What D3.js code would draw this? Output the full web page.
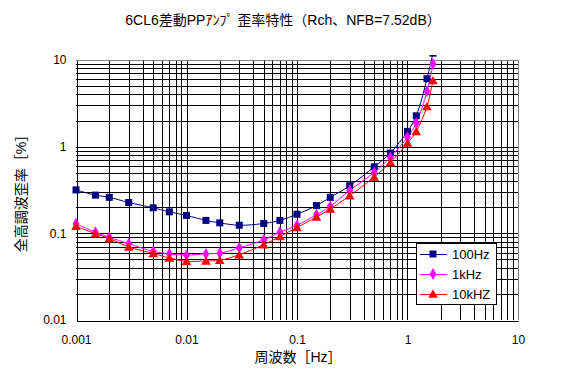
<!DOCTYPE html>
<html>
<head>
<meta charset="utf-8">
<script src="https://cdn.jsdelivr.net/npm/d3@7"></script>
<style>
  html, body { margin: 0; padding: 0; background: #fff; }
  svg { display: block; }
  text { font-family: "Liberation Sans", "Noto Sans CJK JP", sans-serif; fill: #000; }
</style>
</head>
<body>
<svg id="chart" width="564" height="379"></svg>
<script>
// ---- data ----
const xValues = [0.001, 0.0015, 0.002, 0.003, 0.005, 0.007, 0.01, 0.015, 0.02, 0.03, 0.05, 0.07,
                 0.1, 0.15, 0.2, 0.3, 0.5, 0.7, 1, 1.2, 1.5, 1.7];
const s100Hz = [0.317, 0.276, 0.26, 0.227, 0.197, 0.177, 0.161, 0.141, 0.132, 0.124, 0.13, 0.141,
                0.166, 0.209, 0.26, 0.354, 0.586, 0.844, 1.5, 2.27, 6.08, 12];
const s1kHz = [0.129, 0.103, 0.09, 0.076, 0.062, 0.058, 0.056, 0.058, 0.059, 0.068, 0.084, 0.103,
               0.124, 0.164, 0.205, 0.313, 0.505, 0.752, 1.29, 1.87, 4.34, 9.0];
const s10kHz = [0.121, 0.099, 0.0875, 0.0696, 0.0586, 0.052, 0.0475, 0.048, 0.0488, 0.0567, 0.074, 0.092,
                0.117, 0.154, 0.191, 0.272, 0.447, 0.659, 1.1, 1.5, 2.91, 5.81];
const seriesNames = ["100Hz", "1kHz", "10kHZ"];
const xTickLabels = ["0.001", "0.01", "0.1", "1", "10"];
const yTickLabels = ["0.01", "0.1", "1", "10"];
const title = "6CL6差動PPｱﾝﾌﾟ 歪率特性（Rch、NFB=7.52dB）";
const xTitle = "周波数［Hz］";
const yTitle = "全高調波歪率［%］";

// ---- layout ----
const svg = d3.select("#chart");
const L = 76, R = 518, T = 60, B = 320;
const x = d3.scaleLog().domain([0.001, 10]).range([L, R]);
const y = d3.scaleLog().domain([0.01, 10]).range([B, T]);

svg.append("rect").attr("width", 564).attr("height", 379).attr("fill", "#fff");

// gridlines
const xt = x.ticks().filter(v => v > 0.001 * 1.0001 && v < 10 * 0.9999);
const yt = y.ticks().filter(v => v > 0.01 * 1.0001 && v < 10 * 0.9999);
const grid = svg.append("g").attr("stroke", "#000").attr("stroke-width", 1).attr("shape-rendering", "crispEdges");
grid.selectAll("line.v").data(xt).join("line")
  .attr("x1", d => Math.round(x(d)) + 0.5).attr("x2", d => Math.round(x(d)) + 0.5)
  .attr("y1", T).attr("y2", B);
grid.selectAll("line.h").data(yt).join("line")
  .attr("y1", d => Math.round(y(d)) + 0.5).attr("y2", d => Math.round(y(d)) + 0.5)
  .attr("x1", L).attr("x2", R);

// plot border: top/right gray
svg.append("path").attr("d", `M${L},${T + 0.5}H${R + 0.5}V${B}`)
  .attr("fill", "none").attr("stroke", "#808080").attr("shape-rendering", "crispEdges");

// axes
const xAxis = d3.axisBottom(x).tickValues(xTickLabels.map(Number))
  .tickFormat((d, i) => xTickLabels[i]).tickSize(0).tickPadding(15);
const gx = svg.append("g").attr("transform", `translate(0,${B + 0.5})`).call(xAxis);
gx.select(".domain").attr("stroke", "#000").attr("shape-rendering", "crispEdges");
gx.selectAll("text").attr("font-size", 12).attr("fill", "#000");

const yAxis = d3.axisLeft(y).tickValues(yTickLabels.map(Number))
  .tickFormat((d, i) => yTickLabels[i]).tickSize(0).tickPadding(10);
const gy = svg.append("g").attr("transform", `translate(${L + 0.5},0)`).call(yAxis);
gy.select(".domain").attr("stroke", "#000").attr("shape-rendering", "crispEdges");
gy.selectAll("text").attr("font-size", 12).attr("fill", "#000");

// titles
svg.append("text").attr("x", 283).attr("y", 25).attr("text-anchor", "middle")
  .attr("font-size", 14).text(title);
svg.append("text").attr("x", 298).attr("y", 362).attr("text-anchor", "middle")
  .attr("font-size", 14).text(xTitle);
svg.append("text").attr("transform", "translate(26,190) rotate(-90)").attr("text-anchor", "middle")
  .attr("font-size", 14).text(yTitle);

// series
svg.append("clipPath").attr("id", "clip").append("rect")
  .attr("x", 0).attr("y", 55).attr("width", 564).attr("height", 324);

const colors = ["#000080", "#FF00FF", "#FF0000"];
const shapes = [d3.symbolSquare, d3.symbolDiamond, d3.symbolTriangle];
const sizes = [49, 40, 40];
const allSeries = [s100Hz, s1kHz, s10kHz];
const line = d3.line().x(d => x(d[0])).y(d => y(d[1])).curve(d3.curveCatmullRom.alpha(0.5));

const plot = svg.append("g").attr("clip-path", "url(#clip)");
allSeries.forEach((s, i) => {
  const pts = xValues.map((v, j) => [v, s[j]]);
  plot.append("path").datum(pts).attr("d", line)
    .attr("fill", "none").attr("stroke", colors[i]).attr("stroke-width", 1);
});
allSeries.forEach((s, i) => {
  const pts = xValues.map((v, j) => [v, s[j]]);
  plot.selectAll(null).data(pts).join("path")
    .attr("transform", d => `translate(${x(d[0])},${y(d[1]) + (i === 2 ? 1 : 0)})`)
    .attr("d", d3.symbol().type(shapes[i]).size(sizes[i]))
    .attr("fill", colors[i]);
});

// legend
const lg = svg.append("g");
lg.append("rect").attr("x", 416.5).attr("y", 243.5).attr("width", 80).attr("height", 61)
  .attr("fill", "#fff").attr("stroke", "#000").attr("shape-rendering", "crispEdges");
seriesNames.forEach((n, i) => {
  const yy = 254 + i * 20;
  lg.append("line").attr("x1", 420).attr("x2", 447).attr("y1", yy + 0.5).attr("y2", yy + 0.5)
    .attr("stroke", colors[i]).attr("shape-rendering", "crispEdges");
  lg.append("path").attr("transform", `translate(433,${yy + (i === 2 ? 1 : 0)})`)
    .attr("d", d3.symbol().type(shapes[i]).size(sizes[i])).attr("fill", colors[i]);
  lg.append("text").attr("x", 452).attr("y", yy + 5).attr("font-size", 13).text(n);
});
</script>
</body>
</html>
